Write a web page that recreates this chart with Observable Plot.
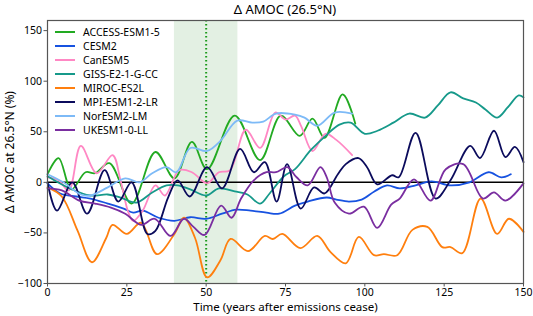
<!DOCTYPE html>
<html>
<head>
<meta charset="utf-8">
<script src="https://cdn.jsdelivr.net/npm/d3@7"></script>
<script src="https://cdn.jsdelivr.net/npm/@observablehq/plot@0.6"></script>
<style>
  html, body { margin: 0; padding: 0; background: #fff; }
  #wrap { position: relative; width: 533px; height: 316px; font-family: "Noto Sans", "DejaVu Sans", sans-serif; }
  #title { position: absolute; top: 0px; left: 47px; width: 476px; text-align: center; font-size: 13px; color: #000; }
  #legend { position: absolute; left: 55px; top: 25px; font-size: 10.5px; color: #000; }
  #legend .row { display: flex; align-items: center; height: 14px; }
  #legend .sw { width: 20px; height: 0; border-top: 2px solid; margin-right: 8px; }
</style>
</head>
<body>
<div id="wrap">
  <div id="title">Δ AMOC (26.5°N)</div>
  <div id="chart"></div>
  <div id="legend"></div>
</div>
<script>
const titleText = "Δ AMOC (26.5°N)";
const xLabel = "Time (years after emissions cease)";
const yLabel = "Δ AMOC at 26.5°N (%)";
const xTicks = [0, 25, 50, 75, 100, 125, 150];
const yTicks = [-100, -50, 0, 50, 100, 150];
const models = ["ACCESS-ESM1-5", "CESM2", "CanESM5", "GISS-E2-1-G-CC", "MIROC-ES2L", "MPI-ESM1-2-LR", "NorESM2-LM", "UKESM1-0-LL"];
const colors = ["#22aa22", "#1752e0", "#ff88c4", "#16998a", "#ff7f0e", "#0b0b5c", "#7dbaf7", "#7a2ea0"];
const shadeStart = 40, shadeEnd = 60, markYear = 50;

// [year, value] pairs
const accessESM = [[0,8],[3.5,24],[7.5,-7],[12,10],[15,9],[19.5,19],[26.5,-21],[34,30],[40,4],[45.5,40],[50.3,13],[59,66],[67,22],[73.5,66],[79.5,46],[83.5,63],[87.3,44],[93,87],[97,58]];
const cesm2 = [[0,-1],[4,-11],[9,-14],[13.5,-16],[19,-21],[24,-26],[27,-30],[30,-28],[35,-35],[40,-38],[45,-34.5],[50,-36],[55,-31],[59.5,-27],[64,-28],[69,-30],[73,-31],[78,-23],[82,-19],[88,-15],[91,-17],[95,-19],[99,-17],[103,-9],[107,-3],[111,-6],[116,-3],[121,1],[127,-3],[133,0],[139,10],[143,5],[146,8]];
const canESM5 = [[0,5],[3.5,2],[6.7,-8],[10.5,36],[15.5,9],[20.5,27],[23,2],[25.5,-30],[27,-38],[30,-28],[34,-3],[37,-13],[41.5,12],[45.5,10],[50.3,-1],[54,10],[57.5,12],[62.5,52],[67,34],[71.8,69],[75,62],[78,66],[80,55],[83.5,31],[87.6,48],[91,42],[96,27]];
const giss = [[0,6],[7,-6],[13.5,-13],[19,-12],[23,-15],[28,-20],[33,-10],[37.5,-3],[41,-3],[45,-7],[50,-13],[54,-6],[59,-9],[63,-12],[67,-21],[70,-11],[74.5,6],[78,13],[83,32],[88,47],[92,57],[95.5,59],[100,48],[104,51],[109,59],[114,68],[119,64],[123,76],[127,89],[131,83],[135,79],[138,72],[141.7,64],[145,74],[148.5,86],[150,84]];
const miroc = [[0,-5],[4.5,-14],[9.5,-48],[14,-79],[18.5,-55],[20.5,-42],[25,-51],[29.5,-40],[34.5,-71],[40,-51],[43,-35],[46.5,-55],[50.3,-94],[54.5,-77],[57.7,-56],[63.2,-68],[68.5,-53],[71,-56],[74,-51],[79.7,-65],[85,-53],[89.2,-69],[94,-80],[98.1,-54],[102.9,-72],[106,-71],[110.2,-72],[115,-47],[119.7,-44],[124.4,-64],[127,-64],[130.7,-70],[136.5,-16],[141.7,-51],[145.4,-36],[150,-49]];
const mpi = [[0,0],[3,-28],[7.8,0],[12.5,-31],[18,12],[22.3,-19],[26.5,0],[31.5,-51],[34,-48],[38,-15],[41,2],[44.8,-14],[50.3,15],[55,-6],[60.7,33],[65,10],[68.5,20],[72.2,-19],[75.5,18],[79.8,-26],[84,-5],[87.3,-11],[91.5,8],[94,18],[98,24],[100.7,15],[103.9,-2],[108.6,7],[110.7,5],[116,49],[122.3,-16],[127,2],[133.2,36],[136.3,24],[140.7,51],[144.3,25],[147.3,35],[150,20]];
const norESM = [[0,8],[5,0],[10.5,-12],[13.5,-13],[19,-5],[24.5,4],[29,0],[33,9],[37.5,15],[40.6,10],[45,34],[50.3,31],[54.5,41],[59.8,61],[64.5,59],[68,60],[72,68],[78,67],[81,64],[85,56],[90.5,69],[96,68]];
const ukesm = [[0,-6],[4.5,-8],[10,-18],[15,-21],[20,-25],[24.5,-31],[29.5,-42],[33.8,-36],[38.8,-53],[43,-36],[46,-44],[49.5,-52],[54.7,-23],[58,-35],[61,-16],[65,2],[69,10],[72,10],[75.6,15],[78.5,5],[82,-3],[86,15],[88,5],[90.5,-20],[95,-31],[99.7,-24],[103.9,-45],[108.3,-22],[111,-16],[115.5,3],[120.7,-18],[125.5,13],[131,18],[137.2,-16],[140.7,-10],[144.3,-18],[150,-1]];

const seriesList = [accessESM, cesm2, canESM5, giss, miroc, mpi, norESM, ukesm];
const rows = [];
seriesList.forEach((s, i) => s.forEach(([t, v]) => rows.push({model: models[i], t, v})));

const plot = Plot.plot({
  width: 533,
  height: 316,
  marginTop: 20,
  marginBottom: 33,
  marginLeft: 47,
  marginRight: 10,
  style: {fontFamily: '"Noto Sans", "DejaVu Sans", sans-serif', fontSize: "10.5px", color: "#000", background: "#fff"},
  x: {domain: [0, 150], ticks: xTicks, label: null, tickSize: 3.5},
  y: {domain: [-100, 160], ticks: yTicks, label: null, tickSize: 3.5},
  color: {domain: models, range: colors},
  marks: [
    Plot.rectX([{a: shadeStart, b: shadeEnd}], {x1: "a", x2: "b", y1: -100, y2: 160, fill: "#e3f0e3"}),
    Plot.ruleX([markYear], {stroke: "#1a9a1a", strokeWidth: 2, strokeDasharray: "1.5,2.5"}),
    Plot.ruleY([0], {stroke: "#000", strokeWidth: 1.5}),
    Plot.line(rows, {x: "t", y: "v", z: "model", stroke: "model", strokeWidth: 1.8, curve: "catmull-rom"}),
    Plot.frame({stroke: "#555", strokeWidth: 1.2}),
    Plot.axisX({ticks: xTicks, tickSize: 3.5, stroke: "#555", label: null, tickPadding: 2}),
    Plot.axisY({ticks: yTicks, tickSize: 3.5, stroke: "#555", label: null, tickPadding: 2}),
    Plot.text([xLabel], {frameAnchor: "bottom", lineAnchor: "middle", dy: 24, fontSize: 11.5, fill: "#000"}),
    Plot.text([yLabel], {frameAnchor: "left", dx: -37, rotate: -90, textAnchor: "middle", fontSize: 12, fill: "#000"})
  ]
});
document.getElementById("chart").appendChild(plot);

const leg = document.getElementById("legend");
models.forEach((m, i) => {
  const r = document.createElement("div");
  r.className = "row";
  const sw = document.createElement("span");
  sw.className = "sw";
  sw.style.borderTopColor = colors[i];
  const tx = document.createElement("span");
  tx.textContent = m;
  r.appendChild(sw); r.appendChild(tx);
  leg.appendChild(r);
});
</script>
</body>
</html>
